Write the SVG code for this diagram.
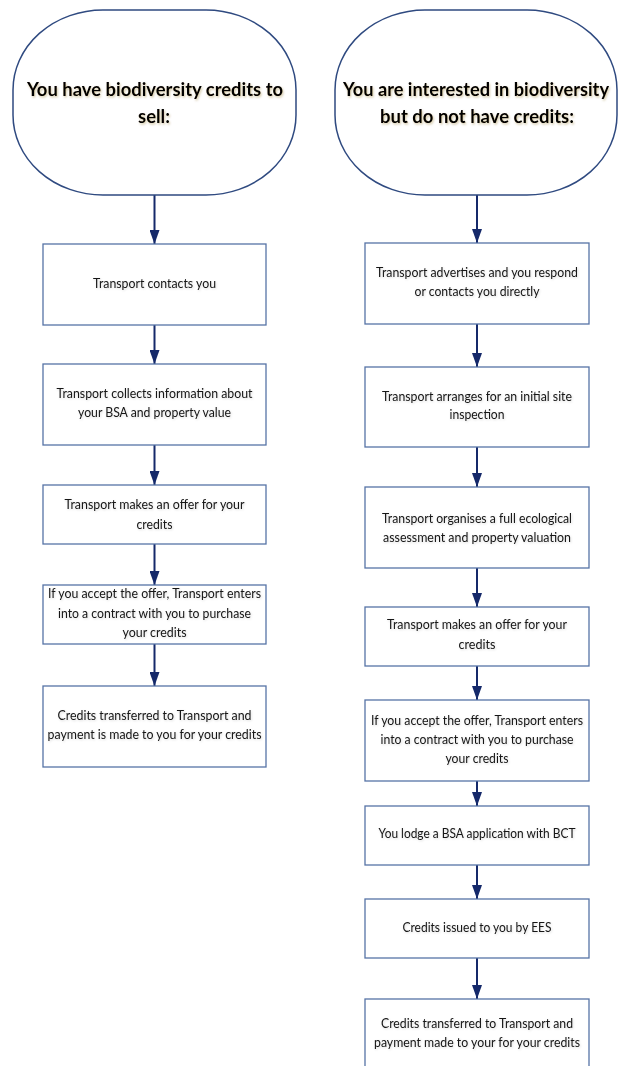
<svg xmlns="http://www.w3.org/2000/svg" width="618" height="1066" viewBox="0 0 618 1066">
<style>
.oval{fill:#fff;stroke:#2f4a80;stroke-width:1.5}
.box{fill:#fff;stroke:#5673a6;stroke-width:1.3}
.hdr{font-family:Lato,"Liberation Sans",sans-serif;font-weight:bold;font-size:19.5px;fill:#000;text-anchor:middle;filter:url(#sh)}
.t{font-family:Lato,"Liberation Sans",sans-serif;font-size:13px;fill:#141414;text-anchor:middle;filter:url(#sh2)}
.conn line{stroke:#15296a;stroke-width:2}
</style>
<defs>
<marker id="ah" viewBox="0 0 14 10" refX="14" refY="5" markerWidth="14" markerHeight="10" orient="auto" markerUnits="userSpaceOnUse">
<path d="M0,0 L14,5 L0,10 z" fill="#15296a"/>
</marker>
<filter id="sh" x="-10%" y="-30%" width="120%" height="160%">
<feDropShadow dx="1" dy="1.5" stdDeviation="1.2" flood-color="#806000" flood-opacity="0.35"/>
</filter>
<filter id="sh2" x="-10%" y="-30%" width="120%" height="160%">
<feDropShadow dx="0.8" dy="1" stdDeviation="0.8" flood-color="#000" flood-opacity="0.15"/>
</filter>
</defs>
<rect width="618" height="1066" fill="#fff"/>

<g id="conns" class="conn">
<line x1="154.5" y1="195" x2="154.5" y2="244" marker-end="url(#ah)"/>
<line x1="154.5" y1="325" x2="154.5" y2="364" marker-end="url(#ah)"/>
<line x1="154.5" y1="445" x2="154.5" y2="485" marker-end="url(#ah)"/>
<line x1="154.5" y1="544" x2="154.5" y2="585" marker-end="url(#ah)"/>
<line x1="154.5" y1="644" x2="154.5" y2="686" marker-end="url(#ah)"/>
<line x1="477" y1="195" x2="477" y2="243" marker-end="url(#ah)"/>
<line x1="477" y1="324" x2="477" y2="367" marker-end="url(#ah)"/>
<line x1="477" y1="447" x2="477" y2="487" marker-end="url(#ah)"/>
<line x1="477" y1="568" x2="477" y2="607" marker-end="url(#ah)"/>
<line x1="477" y1="666" x2="477" y2="700" marker-end="url(#ah)"/>
<line x1="477" y1="781" x2="477" y2="806" marker-end="url(#ah)"/>
<line x1="477" y1="865" x2="477" y2="899" marker-end="url(#ah)"/>
<line x1="477" y1="958" x2="477" y2="999" marker-end="url(#ah)"/>
</g>

<g id="start-left">
<rect class="oval" x="13" y="10" width="283" height="185" rx="90" ry="80"/>
<text class="hdr" x="155" y="96" textLength="256" lengthAdjust="spacingAndGlyphs">You have biodiversity credits to</text>
<text class="hdr" x="154" y="123" textLength="32" lengthAdjust="spacingAndGlyphs">sell:</text>
</g>
<g id="start-right">
<rect class="oval" x="335" y="10" width="282" height="185" rx="90" ry="80"/>
<text class="hdr" x="476" y="96" textLength="266" lengthAdjust="spacingAndGlyphs">You are interested in biodiversity</text>
<text class="hdr" x="477" y="123" textLength="194" lengthAdjust="spacingAndGlyphs">but do not have credits:</text>
</g>

<g id="L1"><rect class="box" x="43" y="244" width="223" height="81"/>
<text class="t" x="154.5" y="288" textLength="123" lengthAdjust="spacingAndGlyphs">Transport contacts you</text></g>
<g id="L2"><rect class="box" x="43" y="364" width="223" height="81"/>
<text class="t" x="154.5" y="398" textLength="196" lengthAdjust="spacingAndGlyphs">Transport collects information about</text>
<text class="t" x="154.5" y="417" textLength="153" lengthAdjust="spacingAndGlyphs">your BSA and property value</text></g>
<g id="L3"><rect class="box" x="43" y="485" width="223" height="59"/>
<text class="t" x="154.5" y="509" textLength="180" lengthAdjust="spacingAndGlyphs">Transport makes an offer for your</text>
<text class="t" x="154.5" y="529" textLength="36" lengthAdjust="spacingAndGlyphs">credits</text></g>
<g id="L4"><rect class="box" x="43" y="585" width="223" height="59"/>
<text class="t" x="154.5" y="598" textLength="213" lengthAdjust="spacingAndGlyphs">If you accept the offer, Transport enters</text>
<text class="t" x="154.5" y="618" textLength="193" lengthAdjust="spacingAndGlyphs">into a contract with you to purchase</text>
<text class="t" x="154.5" y="637" textLength="64" lengthAdjust="spacingAndGlyphs">your credits</text></g>
<g id="L5"><rect class="box" x="43" y="686" width="223" height="81"/>
<text class="t" x="154.5" y="720" textLength="194" lengthAdjust="spacingAndGlyphs">Credits transferred to Transport and</text>
<text class="t" x="154.5" y="739" textLength="214" lengthAdjust="spacingAndGlyphs">payment is made to you for your credits</text></g>

<g id="R1"><rect class="box" x="365" y="243" width="224" height="81"/>
<text class="t" x="477" y="277" textLength="202" lengthAdjust="spacingAndGlyphs">Transport advertises and you respond</text>
<text class="t" x="477" y="296" textLength="125" lengthAdjust="spacingAndGlyphs">or contacts you directly</text></g>
<g id="R2"><rect class="box" x="365" y="367" width="224" height="80"/>
<text class="t" x="477" y="401" textLength="190" lengthAdjust="spacingAndGlyphs">Transport arranges for an initial site</text>
<text class="t" x="477" y="419" textLength="55" lengthAdjust="spacingAndGlyphs">inspection</text></g>
<g id="R3"><rect class="box" x="365" y="487" width="224" height="81"/>
<text class="t" x="477" y="523" textLength="190" lengthAdjust="spacingAndGlyphs">Transport organises a full ecological</text>
<text class="t" x="477" y="542" textLength="188" lengthAdjust="spacingAndGlyphs">assessment and property valuation</text></g>
<g id="R4"><rect class="box" x="365" y="607" width="224" height="59"/>
<text class="t" x="477" y="629" textLength="180" lengthAdjust="spacingAndGlyphs">Transport makes an offer for your</text>
<text class="t" x="477" y="649" textLength="37" lengthAdjust="spacingAndGlyphs">credits</text></g>
<g id="R5"><rect class="box" x="365" y="700" width="224" height="81"/>
<text class="t" x="477" y="725" textLength="212" lengthAdjust="spacingAndGlyphs">If you accept the offer, Transport enters</text>
<text class="t" x="477" y="744" textLength="193" lengthAdjust="spacingAndGlyphs">into a contract with you to purchase</text>
<text class="t" x="477" y="763" textLength="63" lengthAdjust="spacingAndGlyphs">your credits</text></g>
<g id="R6"><rect class="box" x="365" y="806" width="224" height="59"/>
<text class="t" x="477" y="838" textLength="197" lengthAdjust="spacingAndGlyphs">You lodge a BSA application with BCT</text></g>
<g id="R7"><rect class="box" x="365" y="899" width="224" height="59"/>
<text class="t" x="477" y="932" textLength="149" lengthAdjust="spacingAndGlyphs">Credits issued to you by EES</text></g>
<g id="R8"><rect class="box" x="365" y="999" width="224" height="80"/>
<text class="t" x="477" y="1028" textLength="192" lengthAdjust="spacingAndGlyphs">Credits transferred to Transport and</text>
<text class="t" x="477" y="1047" textLength="206" lengthAdjust="spacingAndGlyphs">payment made to your for your credits</text></g>
</svg>
